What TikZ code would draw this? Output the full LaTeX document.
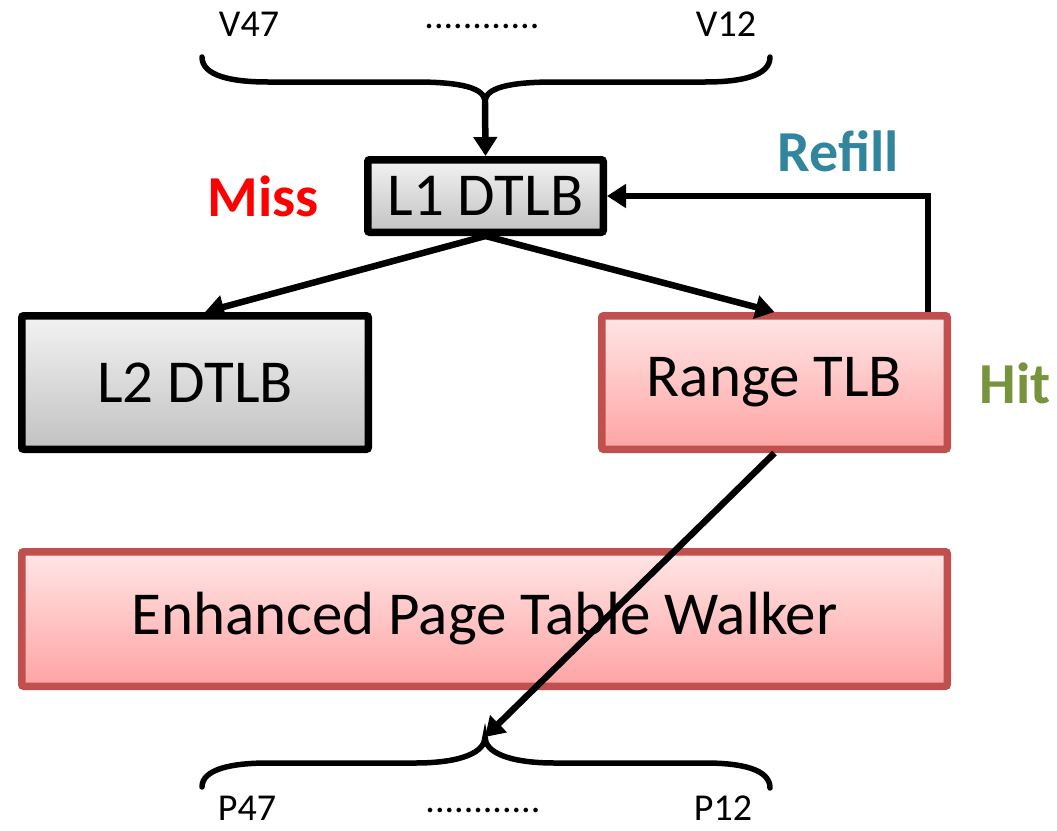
\documentclass[tikz,border=0pt]{standalone}
\usepackage{fontspec}
\setmainfont{Carlito}
\usetikzlibrary{arrows.meta}
\definecolor{boxred}{HTML}{C0504D}
\definecolor{refillcol}{HTML}{31859C}
\definecolor{hitcol}{HTML}{77933C}
\begin{document}
\begin{tikzpicture}[x=1pt,y=-1pt,
  box/.style={draw, line width=7.5pt, rounded corners=2pt, inner sep=0pt,
    font=\fontsize{61}{70}\selectfont},
  graybox/.style={box, draw=black, top color=black!5, bottom color=black!24},
  redbox/.style={box, draw=boxred, top color=red!10, bottom color=red!36},
  conn/.style={line width=6.5pt, -{Triangle[length=19pt,width=23pt]}},
  brace/.style={line width=5.5pt, line cap=round},
  bitlabel/.style={font=\fontsize{38}{42}\selectfont},
  tag/.style={font=\fontsize{58}{64}\selectfont\bfseries}]
\useasboundingbox (0,0) rectangle (1057,830);

% address bits
\node[bitlabel] (v47) at (249,24) {V47};
\node[bitlabel] (vdots) at (482,26) {............};
\node[bitlabel] (v12) at (726,24) {V12};
\node[bitlabel] (p47) at (247,808) {P47};
\node[bitlabel] (pdots) at (483,810) {............};
\node[bitlabel] (p12) at (723,808) {P12};

% braces
\coordinate (vcusp) at (485,102);
\coordinate (pcusp) at (485,737);
\draw[brace] (202,57) .. controls (202,76) and (232,82) .. (268,82) -- (415,82)
  .. controls (462,82) and (485,88) .. (vcusp)
  .. controls (485,88) and (508,82) .. (555,82) -- (705,82)
  .. controls (741,82) and (770,76) .. (770,57);
\draw[brace] (202,787) .. controls (202,769) and (232,763) .. (268,763) -- (415,763)
  .. controls (462,763) and (485,752) .. (pcusp)
  .. controls (485,752) and (508,763) .. (555,763) -- (705,763)
  .. controls (741,763) and (770,769) .. (770,788);

% TLB structures
\node[graybox, minimum width=235.5pt, minimum height=72.5pt] (l1) at (485.5,196) {L1 DTLB};
\node[graybox, minimum width=346.5pt, minimum height=133.5pt] (l2) at (195,382.5) {L2 DTLB};
\node[redbox, minimum width=345.5pt, minimum height=133.5pt] (rtlb) at (774.5,382.5) {Range TLB};
\node[redbox, minimum width=925.5pt, minimum height=134.5pt] (ptw) at (484.5,619) {Enhanced Page Table Walker};

% labels
\node[tag, text=red] (miss) at (263,196) {Miss};
\node[tag, text=refillcol] (refill) at (838,151) {Refill};
\node[tag, text=hitcol] (hit) at (1015,383) {Hit};

% connectors
\draw[conn] (vcusp) -- (l1.north);
\draw[conn] (l1.south) -- ([xshift=10pt]l2.north);
\draw[conn] (l1.south) -- (rtlb.north);
\draw[conn] ([xshift=-23pt]rtlb.north east) |- (l1.east);
\draw[conn] (rtlb.south) -- (pcusp);
\end{tikzpicture}
\end{document}
